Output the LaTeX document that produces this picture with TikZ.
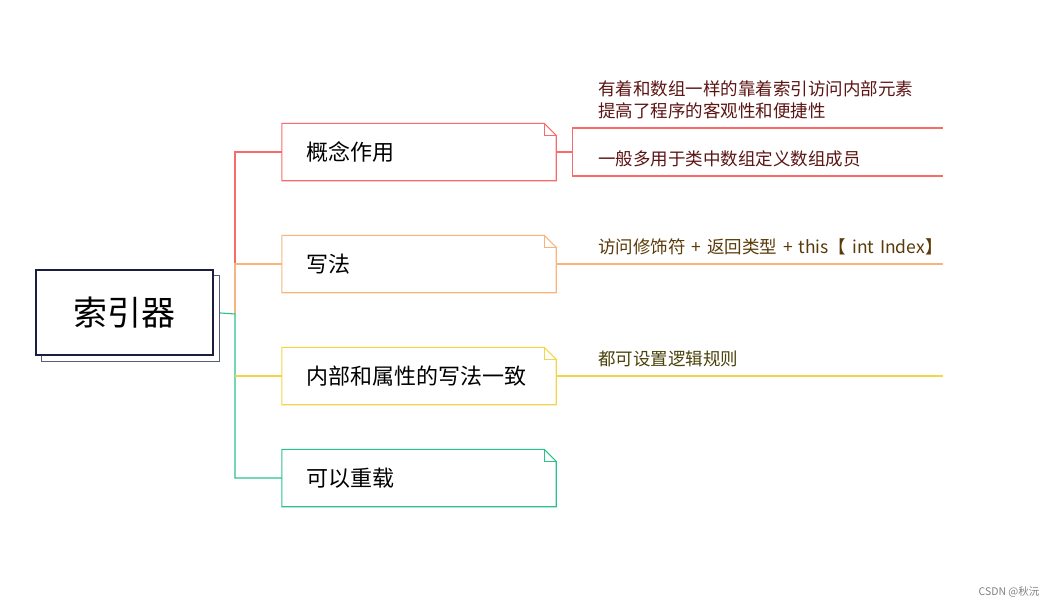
\documentclass[tikz,border=0pt]{standalone}
\usepackage{fontspec}
\setmainfont{Noto Sans CJK SC}
\usepackage{tikz}
\pgfdeclarelayer{background}
\pgfsetlayers{background,main}
\definecolor{croot}{HTML}{1C1E3E}
\definecolor{cshadow}{HTML}{5A5C75}
\definecolor{cred}{HTML}{F86B6B}
\definecolor{corange}{HTML}{F8B47A}
\definecolor{cyellow}{HTML}{F4D54A}
\definecolor{cgreen}{HTML}{2BC28A}
\definecolor{tred}{HTML}{5C1414}
\definecolor{torange}{HTML}{5A3A08}
\definecolor{tyellow}{HTML}{4A420A}
\tikzset{
  topic/.style={minimum width=274pt, minimum height=57pt, text width=226pt, inner xsep=24pt, align=left, font=\fontsize{22}{26}\selectfont},
  leaf/.style={anchor=south west, inner ysep=9pt, align=left, font=\fontsize{17.5}{22}\selectfont},
  conn/.style={line width=1.1pt}
}
\begin{document}
\begin{tikzpicture}[x=1pt,y=-1pt]
\useasboundingbox (0,0) rectangle (1059,608);
\node[draw=croot, line width=1.2pt, fill=white, minimum width=177pt, minimum height=85pt, font=\fontsize{34}{40}\selectfont] (root) at (124.5,312.5) {索引器};
\node[topic] (gn) at (419,152) {概念作用};
\node[topic] (xf) at (419,264) {写法};
\node[topic] (nb) at (419,376) {内部和属性的写法一致};
\node[topic] (cz) at (419,478) {可以重载};
% folded corners
\foreach \n/\c in {gn/cred, xf/corange, nb/cyellow, cz/cgreen} {
  \draw[conn, \c] (\n.north west) -- ([xshift=-12pt]\n.north east) -- ([yshift=-12pt]\n.north east) -- (\n.south east) -- (\n.south west) -- cycle;
  \draw[conn, \c] ([xshift=-12pt]\n.north east) |- ([yshift=-12pt]\n.north east);
}
% children
\node[leaf, text=tred, text width=318pt, inner xsep=26pt] (gn1) at ([xshift=16pt,yshift=24pt]gn.east) {有着和数组一样的靠着索引访问内部元素\\提高了程序的客观性和便捷性};
\node[leaf, text=tred, text width=318pt, inner xsep=26pt] (gn2) at ([xshift=16pt,yshift=-24pt]gn.east) {一般多用于类中数组定义数组成员};
\node[leaf, text=torange, text width=332pt, inner xsep=12pt] (xf1) at ([xshift=30pt]xf.east) {\mbox{访问修饰符 + 返回类型 + this【 int Index】}};
\node[leaf, text=tyellow, text width=332pt, inner xsep=12pt] (nb1) at ([xshift=30pt]nb.east) {都可设置逻辑规则};
\draw[conn, cred] (gn.east) -- (gn.east -| gn1.south west);
\draw[conn, cred] (gn1.south east) -- (gn1.south west) -- (gn2.south west) -- (gn2.south east);
\draw[conn, corange] (xf.east) -- (xf1.south west) -- (xf1.south east);
\draw[conn, cyellow] (nb.east) -- (nb1.south west) -- (nb1.south east);
\node[text=gray, font=\fontsize{10.5}{12}\selectfont] (wm) at (1009,592) {CSDN @秋沅};
\begin{pgfonlayer}{background}
\coordinate (j) at (235,314);
\draw[conn, cred] (gn.west) -| (j |- xf.west);
\draw[conn, corange] (xf.west) -| (j);
\draw[conn, cgreen] (root.east) -- (j) |- (cz.west);
\draw[conn, cyellow] (nb.west) -- (j |- nb.west);
\draw[line width=1.2pt, cshadow, fill=white] ([shift={(6,6)}]root.north west) rectangle ([shift={(6,6)}]root.south east);
\end{pgfonlayer}
\end{tikzpicture}
\end{document}
